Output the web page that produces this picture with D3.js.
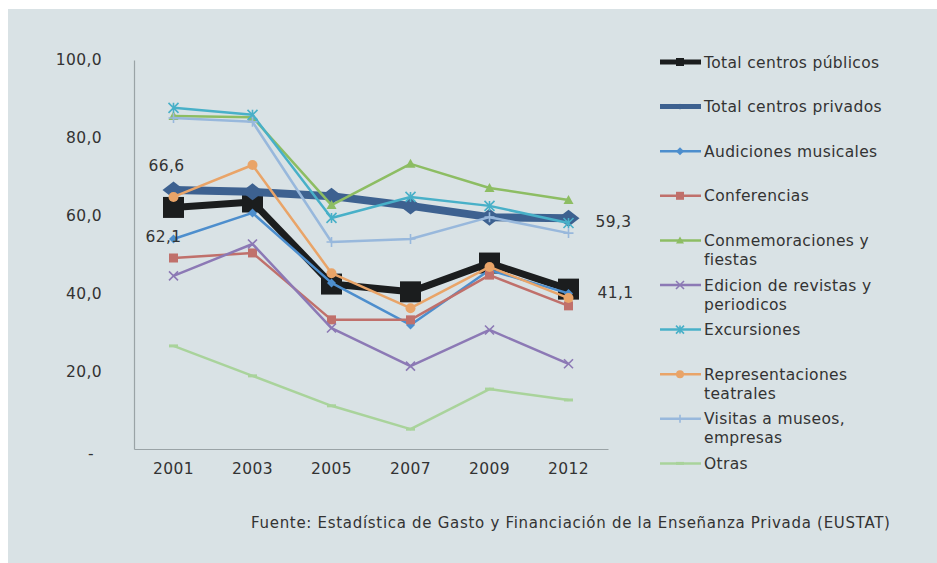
<!DOCTYPE html>
<html>
<head>
<meta charset="utf-8">
<script src="https://cdn.jsdelivr.net/npm/d3@7"></script>
<style>
  body { margin: 0; background: #fff; }
  text { font-family: "DejaVu Sans", Verdana, sans-serif; fill: #333; }
</style>
</head>
<body>
<div id="chart"></div>
<script>
// Data
var years = ["2001", "2003", "2005", "2007", "2009", "2012"];
var yTicks = [0, 20, 40, 60, 80, 100];

var publicos = [62.1, 63.5, 42.4, 40.4, 47.8, 41.1];
var privados = [66.6, 66.1, 65.0, 62.5, 59.6, 59.3];
var audiciones = [54.0, 60.7, 42.7, 31.9, 46.0, 40.0];
var conferencias = [49.1, 50.4, 33.2, 33.2, 44.7, 36.8];
var conmemoraciones = [85.6, 85.3, 62.7, 73.3, 67.1, 64.0];
var edicion = [44.5, 52.7, 31.1, 21.3, 30.6, 21.9];
var excursiones = [87.7, 85.9, 59.4, 64.8, 62.5, 58.1];
var representaciones = [64.8, 73.0, 45.2, 36.2, 46.8, 38.8];
var visitas = [85.1, 84.1, 53.2, 54.0, 59.6, 55.5];
var otras = [26.5, 18.8, 11.1, 5.1, 15.4, 12.6];

var series = [
  { name: ["Total centros públicos"], values: publicos, color: "#1b1d1e", width: 7, marker: "square", size: 21, legW: 5 },
  { name: ["Total centros privados"], values: privados, color: "#3d6190", width: 8, marker: "bigdiamond", size: 20, legW: 5 },
  { name: ["Audiciones musicales"], values: audiciones, color: "#4d8ecd", width: 2.5, marker: "diamond", size: 9, legW: 2.5 },
  { name: ["Conferencias"], values: conferencias, color: "#c0706b", width: 2.5, marker: "square", size: 9, legW: 2.5 },
  { name: ["Conmemoraciones y", "fiestas"], values: conmemoraciones, color: "#8dbd63", width: 2.5, marker: "triangle", size: 10, legW: 2.5 },
  { name: ["Edicion de revistas y", "periodicos"], values: edicion, color: "#8c79b5", width: 2.5, marker: "x", size: 9, legW: 2.5 },
  { name: ["Excursiones"], values: excursiones, color: "#48b0c8", width: 2.5, marker: "star", size: 10, legW: 2.5 },
  { name: ["Representaciones", "teatrales"], values: representaciones, color: "#e9a468", width: 2.5, marker: "circle", size: 10, legW: 2.5 },
  { name: ["Visitas a museos,", "empresas"], values: visitas, color: "#98b8dc", width: 2.5, marker: "plus", size: 10, legW: 2.5 },
  { name: ["Otras"], values: otras, color: "#a9d39b", width: 2.5, marker: "dash", size: 9, legW: 2.5 }
];

var width = 937, height = 563;

var svg = d3.select("#chart").append("svg")
  .attr("width", width)
  .attr("height", height);

// Panel background
svg.append("rect")
  .attr("x", 8).attr("y", 9)
  .attr("width", width - 8).attr("height", height - 9)
  .attr("fill", "#d9e2e5");

// Scales
var x = d3.scaleBand().domain(years).range([134, 608]).paddingInner(0).paddingOuter(0);
var y = d3.scaleLinear().domain([0, 100]).range([449, 60]);
function cx(d, i) { return x(years[i]) + x.bandwidth() / 2; }

// Y axis
var yAxis = svg.append("g")
  .attr("transform", "translate(134,0)")
  .call(d3.axisLeft(y).tickValues(yTicks).tickSize(0).tickPadding(32)
    .tickFormat(function (d) { return d === 0 ? "-" : d.toFixed(1).replace(".", ","); }));
yAxis.select(".domain").attr("stroke", "#9aa3a6").attr("stroke-width", 1.2);
yAxis.selectAll("text")
  .style("font-size", "15.5px")
  .style("font-family", "'DejaVu Sans', sans-serif")
  .style("letter-spacing", "0.4px")
  .attr("fill", "#333")
  .attr("dx", function (d) { return d === 0 ? -8 : 0; })
  .attr("dy", function (d) { return d === 0 ? "0.6em" : "0.32em"; });

// X axis
var xAxis = svg.append("g")
  .attr("transform", "translate(0,449)")
  .call(d3.axisBottom(x).tickSize(0).tickPadding(14));
xAxis.select(".domain").attr("stroke", "#9aa3a6").attr("stroke-width", 1.2);
xAxis.selectAll("text")
  .style("font-size", "15.5px")
  .style("font-family", "'DejaVu Sans', sans-serif")
  .style("letter-spacing", "0.4px")
  .attr("fill", "#333");

// Marker drawing
function drawMarker(g, type, size, color) {
  var h = size / 2;
  if (type === "square") {
    g.append("rect").attr("x", -h).attr("y", -h).attr("width", size).attr("height", size).attr("fill", color);
  } else if (type === "bigdiamond") {
    g.append("path").attr("d", "M0," + (-h * 0.85) + "L" + (h * 1.1) + ",0L0," + (h * 0.85) + "L" + (-h * 1.1) + ",0Z").attr("fill", color);
  } else if (type === "diamond") {
    g.append("path").attr("d", "M0," + (-h) + "L" + h + ",0L0," + h + "L" + (-h) + ",0Z").attr("fill", color);
  } else if (type === "triangle") {
    g.append("path").attr("d", "M0," + (-h) + "L" + h + "," + (h * 0.8) + "L" + (-h) + "," + (h * 0.8) + "Z").attr("fill", color);
  } else if (type === "circle") {
    g.append("circle").attr("r", h).attr("fill", color);
  } else if (type === "x") {
    g.append("path").attr("d", "M" + (-h) + "," + (-h) + "L" + h + "," + h + "M" + (-h) + "," + h + "L" + h + "," + (-h))
      .attr("stroke", color).attr("stroke-width", 1.6);
  } else if (type === "star") {
    g.append("path").attr("d", "M" + (-h) + "," + (-h) + "L" + h + "," + h + "M" + (-h) + "," + h + "L" + h + "," + (-h) + "M0," + (-h) + "L0," + h)
      .attr("stroke", color).attr("stroke-width", 1.6);
  } else if (type === "plus") {
    g.append("path").attr("d", "M0," + (-h) + "L0," + h + "M" + (-h) + ",0L" + h + ",0")
      .attr("stroke", color).attr("stroke-width", 1.6);
  } else if (type === "dash") {
    g.append("path").attr("d", "M" + (-h) + ",0L" + h + ",0")
      .attr("stroke", color).attr("stroke-width", 3);
  }
}

var line = d3.line()
  .x(function (d, i) { return cx(d, i); })
  .y(function (d) { return y(d); });

// Lines and markers
series.forEach(function (s) {
  var g = svg.append("g");
  g.append("path")
    .attr("d", line(s.values))
    .attr("fill", "none")
    .attr("stroke", s.color)
    .attr("stroke-width", s.width)
    .attr("stroke-linejoin", "round");
  s.values.forEach(function (v, i) {
    var m = g.append("g").attr("transform", "translate(" + cx(v, i) + "," + y(v) + ")");
    drawMarker(m, s.marker, s.size, s.color);
  });
});

// Data labels
function fmt(v) { return v.toFixed(1).replace(".", ","); }
var labels = svg.append("g").style("font-size", "15.5px").style("letter-spacing", "0.4px");
labels.append("text")
  .attr("x", cx(privados[0], 0) - 7).attr("y", y(privados[0]) - 19)
  .attr("text-anchor", "middle").text(fmt(privados[0]));
labels.append("text")
  .attr("x", cx(publicos[0], 0) - 10).attr("y", y(publicos[0]) + 35)
  .attr("text-anchor", "middle").text(fmt(publicos[0]));
labels.append("text")
  .attr("x", cx(privados[5], 5) + 27).attr("y", y(privados[5]) + 9)
  .text(fmt(privados[5]));
labels.append("text")
  .attr("x", cx(publicos[5], 5) + 29).attr("y", y(publicos[5]) + 9)
  .text(fmt(publicos[5]));

// Legend
var legend = svg.selectAll(".legend")
  .data(series)
  .enter().append("g")
  .attr("class", "legend")
  .attr("transform", function (d, i) { return "translate(660," + (62 + i * 44.6) + ")"; });

legend.append("line")
  .attr("x1", 0).attr("x2", 41).attr("y1", 0).attr("y2", 0)
  .attr("stroke", function (d) { return d.color; })
  .attr("stroke-width", function (d) { return d.legW; });

legend.each(function (d) {
  var m = d3.select(this).append("g").attr("transform", "translate(20,0)");
  var sz = d.marker === "square" && d.size > 10 ? 8 : (d.marker === "bigdiamond" ? 7 : Math.min(d.size, 8));
  drawMarker(m, d.marker, sz, d.color);
});

legend.append("text")
  .attr("x", 44)
  .attr("y", 0)
  .style("font-size", "15.5px")
  .style("letter-spacing", "0.35px")
  .selectAll("tspan")
  .data(function (d) { return d.name; })
  .enter().append("tspan")
  .attr("x", 44)
  .attr("dy", function (d, i) { return i === 0 ? "0.36em" : "19px"; })
  .text(function (d) { return d; });

// Source note
svg.append("text")
  .attr("x", 251).attr("y", 528)
  .style("font-size", "15px")
  .style("letter-spacing", "0.7px")
  .text("Fuente: Estadística de Gasto y Financiación de la Enseñanza Privada (EUSTAT)");
</script>
</body>
</html>
